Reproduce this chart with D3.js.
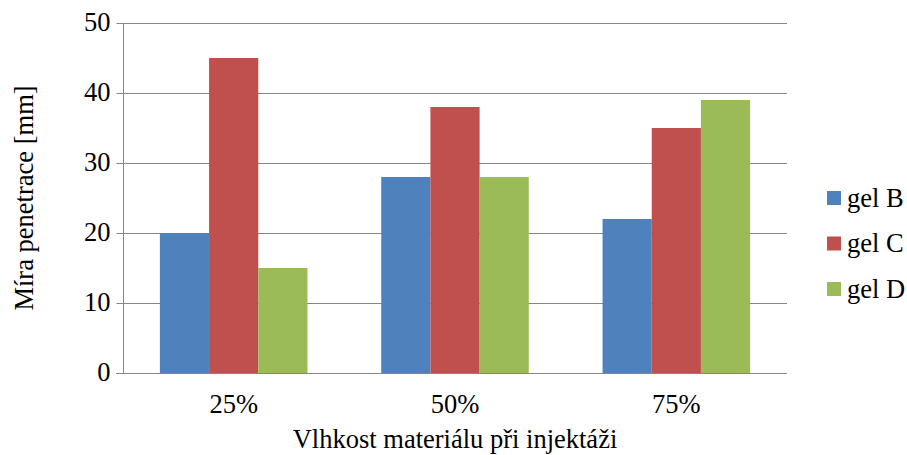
<!DOCTYPE html>
<html>
<head>
<meta charset="utf-8">
<script src="https://cdn.jsdelivr.net/npm/d3@7"></script>
<style>
  html, body { margin: 0; padding: 0; background: #fff; }
  svg { display: block; }
</style>
</head>
<body>
<svg id="chart" width="907" height="455"></svg>
<script>
// Moisture levels of the material during injection
const categories = ["25%", "50%", "75%"];
const seriesNames = ["gel B", "gel C", "gel D"];
const gelB = [20, 28, 22];
const gelC = [45, 38, 35];
const gelD = [15, 28, 39];
const colors = ["#4F81BD", "#C0504D", "#9BBB59"];
const yTicks = [0, 10, 20, 30, 40, 50];

const seriesValues = [gelB, gelC, gelD];
const FONT = "Liberation Serif, Times New Roman, serif";
const FS = "26.5px";

const svg = d3.select("#chart");
const plot = { left: 123, right: 787, top: 23, bottom: 373 };

const x = d3.scaleBand().domain(categories).range([plot.left, plot.right]).padding(0);
const inner = d3.scaleBand().domain(seriesNames)
  .range([0, x.bandwidth()]).paddingInner(0).paddingOuter(0.75);
const y = d3.scaleLinear().domain([0, 50]).range([plot.bottom, plot.top]);

const gridColor = "#868686";

// horizontal gridlines
svg.append("g")
  .selectAll("line")
  .data(yTicks)
  .join("line")
  .attr("x1", plot.left).attr("x2", plot.right)
  .attr("y1", d => Math.round(y(d)) + 0.5).attr("y2", d => Math.round(y(d)) + 0.5)
  .attr("stroke", gridColor).attr("stroke-width", 1);

// bars
const groups = svg.append("g")
  .selectAll("g")
  .data(seriesNames.map((name, i) => ({ name, values: seriesValues[i], color: colors[i] })))
  .join("g")
  .attr("fill", d => d.color);

groups.selectAll("rect")
  .data(d => d.values.map((v, j) => ({ name: d.name, cat: categories[j], v })))
  .join("rect")
  .attr("x", d => x(d.cat) + inner(d.name))
  .attr("width", inner.bandwidth())
  .attr("y", d => y(d.v))
  .attr("height", d => y(0) - y(d.v));

// y axis
const yAxis = d3.axisLeft(y).tickValues(yTicks).tickSize(7).tickPadding(6).tickFormat(d3.format("d"));
const yg = svg.append("g").attr("transform", `translate(${plot.left + 0.5},0)`).call(yAxis);
yg.attr("font-family", null).attr("font-size", null);
yg.select(".domain").attr("stroke", gridColor).attr("d", `M0,${plot.top}V${plot.bottom + 0.5}`);
yg.selectAll(".tick line").attr("stroke", gridColor);
yg.selectAll(".tick text").attr("fill", "#000").attr("dy", "0.3em")
  .style("font-family", FONT).style("font-size", FS);

// x axis
const xAxis = d3.axisBottom(x).tickSize(0).tickPadding(21);
const xg = svg.append("g").attr("transform", `translate(0,${Math.round(plot.bottom) + 0.5})`).call(xAxis);
xg.attr("font-family", null).attr("font-size", null);
xg.select(".domain").attr("stroke", gridColor).attr("d", `M${plot.left - 7},0H${plot.right}`);
xg.selectAll(".tick text").attr("fill", "#000")
  .style("font-family", FONT).style("font-size", FS);

// axis titles
svg.append("text")
  .attr("x", (plot.left + plot.right) / 2).attr("y", 448)
  .attr("text-anchor", "middle")
  .style("font-family", FONT).style("font-size", FS)
  .text("Vlhkost materiálu při injektáži");

svg.append("text")
  .attr("transform", "translate(33,198) rotate(-90)")
  .attr("text-anchor", "middle")
  .style("font-family", FONT).style("font-size", FS)
  .text("Míra penetrace [mm]");

// legend
const legend = svg.append("g").attr("transform", "translate(827,191)");
const item = legend.selectAll("g")
  .data(seriesNames)
  .join("g")
  .attr("transform", (d, i) => `translate(0,${i * 45.5})`);
item.append("rect").attr("width", 14).attr("height", 14)
  .attr("fill", (d, i) => colors[i]);
item.append("text").attr("x", 20).attr("y", 15.5)
  .style("font-family", FONT).style("font-size", FS)
  .text(d => d);
</script>
</body>
</html>
